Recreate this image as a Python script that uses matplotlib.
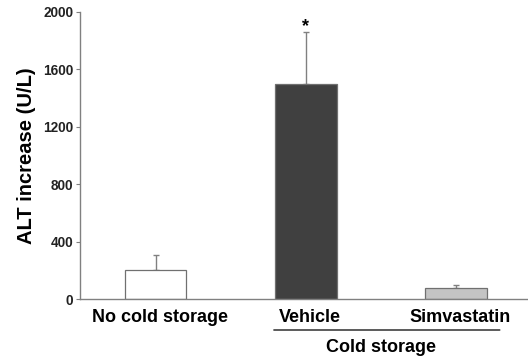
import matplotlib
matplotlib.use("Agg")
import matplotlib.pyplot as plt
from matplotlib.transforms import ScaledTranslation

categories = ["No cold storage", "Vehicle", "Simvastatin"]
values = [200, 1495, 80]
errors = [105, 365, 18]
colors = ["#ffffff", "#404040", "#c4c4c4"]
group_label = "Cold storage"
yticks = [0, 400, 800, 1200, 1600, 2000]

plt.rcParams['font.family'] = ['Liberation Sans', 'DejaVu Sans']

fig = plt.figure(figsize=(5.28, 3.58), dpi=100)
ax = fig.add_axes([0.1515, 0.1648, 0.8485, 0.8017])

x = list(range(len(categories)))
ax.bar(x, values, width=0.41, color=colors, edgecolor="#707070", linewidth=0.9, zorder=2)
ax.errorbar(x, values, yerr=[[0]*len(values), errors], fmt="none", ecolor="#808080",
            elinewidth=1.0, capsize=2.5, capthick=1.0, zorder=1)

ax.text(1, values[1] + errors[1] - 22, "*", ha="center", va="bottom", fontsize=13, fontweight="bold")

ax.set_xlim(-0.503, 2.48)
ax.set_ylim(0, 2000)
ax.set_yticks(yticks)
ax.set_yticklabels([str(t) for t in yticks], fontsize=9.8, fontweight="bold", color="#222222")
ax.set_xticks(x)
ax.set_xticklabels(categories, fontsize=13, fontweight="bold")
ax.tick_params(axis="x", length=0, pad=7)
ax.tick_params(axis="y", length=3, width=0.8, color="#808080", pad=2)
shift = ScaledTranslation(4 / 100, 0, fig.dpi_scale_trans)
for lab in ax.get_xticklabels():
    lab.set_transform(lab.get_transform() + shift)
for s in ["top", "right"]:
    ax.spines[s].set_visible(False)
for s in ["left", "bottom"]:
    ax.spines[s].set_color("#808080")
    ax.spines[s].set_linewidth(1.0)

ax.set_ylabel("ALT increase (U/L)", fontsize=14.5, fontweight="bold", labelpad=5)

# group line under Vehicle & Simvastatin
ax.annotate("", xy=(0.77, -0.108), xycoords=("data", "axes fraction"),
            xytext=(2.31, -0.108), textcoords=("data", "axes fraction"),
            arrowprops=dict(arrowstyle="-", color="#404040", lw=1.2))
ax.text(1.5, -0.138, group_label, transform=ax.get_xaxis_transform(),
        ha="center", va="top", fontsize=13, fontweight="bold")

fig.savefig("out.png", dpi=100)
